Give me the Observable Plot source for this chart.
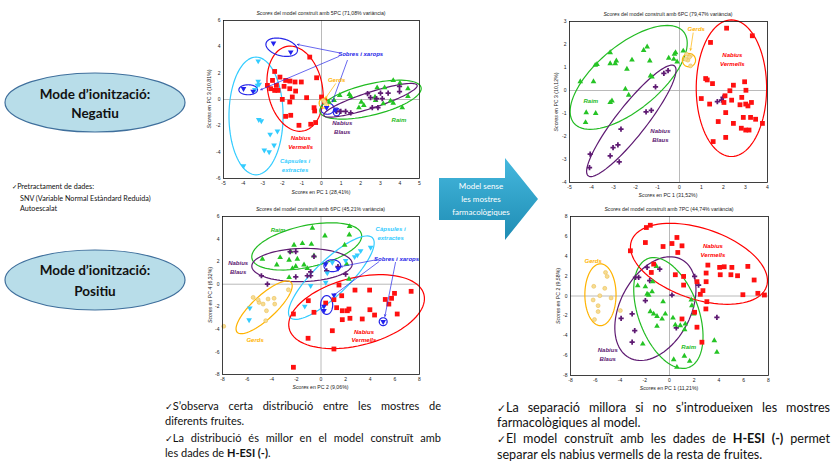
<!DOCTYPE html>
<html><head><meta charset="utf-8">
<script src="https://cdn.jsdelivr.net/npm/d3@7"></script>
<script src="https://cdn.jsdelivr.net/npm/@observablehq/plot@0.6"></script>
<style>
html,body{margin:0;padding:0;background:#fff;}
#page{position:relative;width:833px;height:462px;overflow:hidden;font-family:Lato,"Open Sans",sans-serif;color:#111;}
.chart{position:absolute;}
.small{position:absolute;font-family:"Liberation Sans",Arial,sans-serif;font-size:5.2px;color:#222;white-space:nowrap;transform:translate(-50%,-50%);}
.ylab{position:absolute;font-family:"Liberation Sans",Arial,sans-serif;font-size:5.2px;color:#222;white-space:nowrap;transform:translate(-50%,-50%) rotate(-90deg);}
.line{position:absolute;white-space:nowrap;}
.just{text-align:justify;text-align-last:justify;}
.ck{font-family:"DejaVu Sans",sans-serif;font-size:0.85em;}
.ib{display:inline-block;}
</style>
</head><body>
<div id="page">
<svg id="deco" width="833" height="462" style="position:absolute;left:0;top:0">
  <defs>
    <linearGradient id="ag" x1="0" y1="0" x2="0" y2="1">
      <stop offset="0" stop-color="#45b8de"/>
      <stop offset="1" stop-color="#1e8cb3"/>
    </linearGradient>
  </defs>
  <ellipse cx="95" cy="102.5" rx="90" ry="29.5" fill="#b8dde9" stroke="#3f6f9c" stroke-width="1.2"/>
  <text x="95" y="94" text-anchor="middle" dominant-baseline="central" font-size="13.5" font-weight="bold" font-family="Lato, 'Open Sans', sans-serif" fill="#111">Mode d’ionització:</text>
  <text x="95" y="113" text-anchor="middle" dominant-baseline="central" font-size="13.5" font-weight="bold" font-family="Lato, 'Open Sans', sans-serif" fill="#111">Negatiu</text>
  <ellipse cx="95" cy="280" rx="90" ry="30" fill="#b8dde9" stroke="#3f6f9c" stroke-width="1.2"/>
  <text x="95" y="270" text-anchor="middle" dominant-baseline="central" font-size="13.5" font-weight="bold" font-family="Lato, 'Open Sans', sans-serif" fill="#111">Mode d’ionització:</text>
  <text x="95" y="291" text-anchor="middle" dominant-baseline="central" font-size="13.5" font-weight="bold" font-family="Lato, 'Open Sans', sans-serif" fill="#111">Positiu</text>
  <polygon points="439,178 505,178 505,158 538,199 505,240 505,220 439,220" fill="url(#ag)"/>
  <text x="481" y="186" text-anchor="middle" dominant-baseline="central" font-size="8" font-family="Lato, 'Open Sans', sans-serif" fill="#fff">Model sense</text>
  <text x="481" y="199" text-anchor="middle" dominant-baseline="central" font-size="8" font-family="Lato, 'Open Sans', sans-serif" fill="#fff">les mostres</text>
  <text x="481" y="212" text-anchor="middle" dominant-baseline="central" font-size="8" font-family="Lato, 'Open Sans', sans-serif" fill="#fff">farmacològiques</text>
</svg>
<div class="line" style="left:12px;top:182px;font-size:7.2px;"><span class="ib"><span class="ck">✓</span>Pretractament</span> de dades:</div>
<div class="line" style="left:20px;top:193.5px;font-size:7.2px;">SNV (Variable Normal Estàndard Reduida)</div>
<div class="line" style="left:20px;top:204px;font-size:7.2px;">Autoescalat</div>

<div class="line just" style="left:165px;top:399px;width:276px;font-size:11px;"><span class="ib"><span class="ck">✓</span>S’observa</span> certa distribució entre les mostres de</div>
<div class="line" style="left:165px;top:414px;font-size:11px;">diferents fruites.</div>
<div class="line just" style="left:165px;top:431px;width:276px;font-size:11px;"><span class="ib"><span class="ck">✓</span>La</span> distribució és millor en el model construït amb</div>
<div class="line" style="left:165px;top:446px;font-size:11px;">les dades de <b>H-ESI (-)</b>.</div>

<div class="line just" style="left:497px;top:400px;width:333px;font-size:12.6px;"><span class="ib"><span class="ck">✓</span>La</span> separació millora si no s’introdueixen les mostres</div>
<div class="line" style="left:497px;top:415px;font-size:12.6px;">farmacològiques al model.</div>
<div class="line just" style="left:497px;top:431px;width:333px;font-size:12.6px;"><span class="ib"><span class="ck">✓</span>El</span> model construït amb les dades de <b>H-ESI (-)</b> permet</div>
<div class="line" style="left:497px;top:447px;font-size:12.6px;">separar els nabius vermells de la resta de fruites.</div>
</div>
<script>
// ---------- Chart 1: H-ESI(-), PC1 vs PC3 ----------
const C1_VERMELLS = [[-0.60,3.22],[-2.39,2.13],[-2.12,1.70],[-2.50,1.45],[-2.76,1.07],[-2.30,1.07],[-2.59,0.82],[-2.39,0.69],[-2.22,0.69],[-1.83,1.45],[-1.61,1.40],[-1.35,1.33],[-1.03,1.33],[-0.25,1.65],[-1.91,1.00],[-1.62,0.82],[-1.32,0.64],[-2.00,0.01],[-1.49,0.19],[-1.62,-0.19],[-0.76,0.14],[-0.38,-0.62],[-0.35,-0.87],[-1.83,-1.28],[-1.57,-1.20],[-1.15,-1.96],[-0.55,-1.88],[-0.30,-1.75],[0.16,-0.11],[0.0,0.19]];
const C1_CAPSULES = [[-3.23,2.92],[-3.23,1.38],[-3.27,1.07],[-3.40,0.74],[-3.18,1.15],[-3.20,-1.53],[-3.07,-1.63],[-2.62,-2.64],[-2.25,-2.41],[-2.92,-3.85],[-2.67,-3.98],[-2.42,-3.47],[-3.98,-5.04]];
const C1_SOBRES = [[-2.45,4.28],[-1.57,3.60],[-3.98,0.82],[-3.49,0.62],[0.26,-0.62],[0.72,-0.82]];
const C1_GERDS = [[0.09,-0.06],[0.21,-0.32],[0.15,-0.15]];
const C1_RAIM = [[3.66,1.45],[4.00,1.25],[4.41,0.82],[4.41,0.24],[4.12,-0.62],[2.84,0.90],[2.73,0.19],[2.76,-0.06],[2.03,-0.19],[1.91,-0.62],[1.49,0.24],[1.42,0.39],[0.93,0.32],[0.64,-0.06],[0.38,-0.19],[2.16,-0.44],[3.15,-0.32],[3.22,0.90],[3.52,-0.11],[3.66,-0.27]];
const C1_BLAUS = [[3.98,1.00],[3.40,0.49],[3.01,0.49],[2.50,0.14],[2.81,0.06],[3.10,0.06],[2.59,-0.62],[2.88,-0.62],[0.98,-0.90],[1.23,-0.90],[1.49,-1.02],[0.77,-0.90],[3.98,0.60],[2.35,0.45]];
const C1_ELLIPSES = [
  {group:"capsules", cx:-3.34, cy:-1.25, ux:0, uy:4.47, vx:1.38, vy:0},
  {group:"vermells", cx:-1.35, cy:0.82, ux:-0.42, uy:3.21, vx:1.37, vy:0.40},
  {group:"sobres", cx:-2.03, cy:3.97, ux:0.80, uy:-0.30, vx:-0.10, vy:-0.63},
  {group:"sobres", cx:-3.74, cy:0.74, ux:0.475, uy:0, vx:0, vy:0.38},
  {group:"sobres", cx:0.30, cy:-0.69, ux:0.34, uy:0, vx:0, vy:0.43},
  {group:"sobres", cx:0.77, cy:-0.95, ux:0.17, uy:0, vx:0, vy:0.30},
  {group:"gerds", cx:0.13, cy:-0.27, ux:0.25, uy:0, vx:0, vy:0.38},
  {group:"raim", cx:2.50, cy:-0.01, ux:2.58, uy:0.93, vx:0.19, vy:-1.15},
  {group:"blaus", cx:2.50, cy:-0.06, ux:2.38, uy:1.14, vx:0.12, vy:-0.58}
];
const C1_LABELS = [
  {group:"sobres", text:"Sobres i xarops", x:2.0, y:3.52},
  {group:"gerds", text:"Gerds", x:0.77, y:1.53},
  {group:"blaus", text:"Nabius\nBlaus", x:1.06, y:-2.05},
  {group:"raim", text:"Raim", x:3.95, y:-1.48},
  {group:"vermells", text:"Nabius\nVermells", x:-1.06, y:-3.2},
  {group:"capsules", text:"Càpsules i\nextractes", x:-1.35, y:-4.93}
];
const C1_ARROWS = [
  {group:"sobres", x1:0.89, y1:3.55, x2:-1.23, y2:4.18},
  {group:"sobres", x1:0.89, y1:3.27, x2:-3.10, y2:0.74},
  {group:"sobres", x1:1.32, y1:2.97, x2:0.55, y2:-0.19},
  {group:"gerds", x1:0.72, y1:1.20, x2:0.21, y2:0.11}
];

// ---------- Chart 2: H-ESI(-) without pharmacological samples ----------
const C2_RAIM = [[-4.51,0.39],[-3.91,0.39],[-4.24,-0.96],[-3.81,-0.99],[-4.27,-1.39],[-3.83,1.10],[-3.75,1.14],[-3.15,1.65],[-3.15,1.17],[-2.87,1.29],[-2.92,1.17],[-2.16,1.33],[-2.39,0.93],[-3.15,-0.52],[-3.07,-0.45],[-2.46,0.06],[-2.31,-0.20],[-1.63,1.75],[-1.47,1.90],[-1.35,1.29],[-1.32,0.64],[-1.25,0.59],[-0.49,1.41],[-0.23,1.58],[-0.18,1.65],[-0.11,1.25],[-0.26,1.36],[0.17,1.72]];
const C2_BLAUS = [[-4.09,-3.35],[-4.06,-2.77],[-3.15,-2.84],[-3.02,-2.48],[-2.80,-2.36],[-2.74,-3.10],[-2.66,-1.68],[-1.52,-0.93],[-1.28,-0.86],[-1.09,0.16],[-0.71,0.74],[-0.52,0.86],[1.72,-0.48],[1.91,-0.42],[1.98,-0.30]];
const C2_GERDS = [[0.32,1.58],[0.50,1.51],[0.38,1.32],[0.50,1.07],[0.27,1.36],[0.45,1.45]];
const C2_VERMELLS = [[2.14,2.71],[3.31,2.38],[1.41,2.09],[1.19,0.52],[1.26,0.46],[1.50,0.30],[2.45,0.23],[2.96,0.38],[2.29,-0.01],[0.99,-0.35],[1.37,-0.59],[2.07,-0.23],[2.02,-0.52],[2.37,-0.42],[2.83,-0.30],[3.02,0.01],[3.01,-0.59],[2.75,-0.62],[3.11,-0.67],[3.27,-0.52],[2.10,-0.96],[2.90,-1.17],[3.23,-1.17],[3.46,-1.25],[3.77,-1.43],[1.76,-1.35],[2.45,-1.43],[2.81,-1.64],[3.01,-1.72],[3.16,-1.72],[1.53,-2.22],[2.10,-2.04]];
const C2_ELLIPSES = [
  {group:"raim", cx:-2.31, cy:0.57, ux:2.49, uy:1.99, vx:0.94, vy:-1.07},
  {group:"blaus", cx:-2.19, cy:-1.32, ux:1.96, uy:2.39, vx:0.54, vy:-0.40},
  {group:"gerds", cx:0.43, cy:1.32, ux:0.30, uy:0, vx:0, vy:0.29},
  {group:"vermells", cx:2.36, cy:0.10, ux:0, uy:2.97, vx:1.60, vy:0}
];
const C2_LABELS = [
  {group:"gerds", text:"Gerds", x:0.76, y:2.70},
  {group:"vermells", text:"Nabius\nVermells", x:2.40, y:1.38},
  {group:"raim", text:"Raim", x:-4.03, y:-0.41},
  {group:"blaus", text:"Nabius\nBlaus", x:-0.87, y:-1.92}
];
const C2_ARROWS = [{group:"gerds", x1:0.62, y1:2.50, x2:0.50, y2:1.75}];

// ---------- Chart 3: H-ESI(+), PC2 vs PC4 ----------
const C3_RAIM = [[-0.70,4.97],[2.32,5.12],[0.32,4.29],[2.30,4.38],[-1.51,3.61],[-0.78,3.55],[-2.19,3.47],[-2.46,2.88],[-3.32,2.37],[-4.76,2.23],[-3.59,1.72],[-2.59,2.14],[-1.92,2.23],[-1.38,1.72],[-1.11,1.40],[-0.57,2.52],[-2.05,1.58],[-2.32,1.40],[-2.59,0.60],[1.92,3.47],[2.08,1.78],[2.27,0.46]];
const C3_BLAUS = [[-4.84,0.75],[-4.35,0.01],[-2.51,2.88],[-2.05,2.88],[-2.05,0.66],[-1.11,0.75],[-0.84,0.75],[-0.84,1.10],[-0.57,2.46],[1.38,1.55],[2.00,0.90],[0.46,1.19]];
const C3_CAPSULES = [[4.03,3.26],[3.22,2.96],[2.95,2.58],[2.73,2.43],[2.00,2.08],[0.92,1.93],[0.51,0.99],[0.38,0.16],[-0.84,-0.13],[-1.32,-1.96],[-5.78,-2.11],[-5.84,-3.17]];
const C3_SOBRES = [[0.38,1.78],[1.38,1.40],[0.24,-1.96],[0.24,-2.35],[1.05,-0.96],[5.05,-3.32]];
const C3_GERDS = [[-7.9,-3.73],[-5.51,-1.17],[-5.03,-1.61],[-4.70,-1.76],[-4.30,-1.31],[-3.81,-1.25],[-3.76,-1.76],[-4.43,-2.35],[-4.49,-3.23],[-2.65,-0.49],[-5.11,-1.37]];
const C3_VERMELLS = [[-2.24,-2.64],[-1.03,-1.46],[-0.57,-2.49],[-1.05,-4.79],[-2.24,-7.36],[1.46,-0.07],[0.38,-1.67],[1.05,-1.37],[1.27,-2.08],[1.68,-1.02],[1.73,-2.35],[2.14,-2.35],[2.27,-2.20],[1.73,-3.14],[2.35,-3.02],[2.76,-0.52],[3.35,-3.08],[3.95,-0.52],[3.97,-2.26],[4.35,-2.73],[5.22,-1.35],[5.51,-1.76],[5.73,-1.25],[5.97,-0.81],[6.19,-2.64],[7.32,-0.63],[0.92,-4.12],[1.05,-5.74]];
const C3_ELLIPSES = [
  {group:"raim", cx:-1.16, cy:3.35, ux:4.45, uy:1.07, vx:0.36, vy:-1.80},
  {group:"blaus", cx:-1.54, cy:1.70, ux:4.08, uy:0.1, vx:0, vy:1.47},
  {group:"capsules", cx:0.84, cy:0.58, ux:3.34, uy:3.53, vx:0.98, vy:-1.10},
  {group:"gerds", cx:-4.62, cy:-2.05, ux:2.19, uy:2.21, vx:0.64, vy:-0.76},
  {group:"vermells", cx:2.89, cy:-2.43, ux:5.47, uy:1.52, vx:0.68, vy:-2.90},
  {group:"sobres", cx:0.92, cy:1.64, ux:0.68, uy:0, vx:0, vy:0.53},
  {group:"sobres", cx:0.46, cy:-1.84, ux:0.49, uy:0, vx:0, vy:0.83},
  {group:"sobres", cx:5.05, cy:-3.32, ux:0.32, uy:0, vx:0, vy:0.35}
];
const C3_LABELS = [
  {group:"raim", text:"Raim", x:-3.49, y:4.88},
  {group:"blaus", text:"Nabius\nBlaus", x:-6.73, y:1.52},
  {group:"capsules", text:"Càpsules i\nextractes", x:5.65, y:4.54},
  {group:"sobres", text:"Sobres i xarops", x:6.14, y:2.29},
  {group:"gerds", text:"Gerds", x:-5.35, y:-4.85},
  {group:"vermells", text:"Nabius\nVermells", x:3.49, y:-4.51}
];
const C3_ARROWS = [
  {group:"sobres", x1:4.5, y1:2.17, x2:1.59, y2:1.55},
  {group:"sobres", x1:4.7, y1:1.99, x2:1.05, y2:-0.96},
  {group:"sobres", x1:6.05, y1:1.93, x2:5.19, y2:-2.85}
];

// ---------- Chart 4: H-ESI(+) without pharmacological samples ----------
const C4_GERDS = [[-5.17,2.37],[-5.04,1.97],[-6.12,0.97],[-5.23,0.77],[-5.63,0.03],[-6.17,-0.40],[-4.72,-0.20],[-5.77,-0.97],[-5.77,-1.57],[-6.06,-2.37],[-3.97,-1.47]];
const C4_BLAUS = [[-3.91,-2.24],[-3.02,-1.81],[-2.81,-3.48],[-3.02,-4.65],[-2.49,1.87],[-2.75,1.87],[-1.81,2.88],[-1.60,1.54],[-0.79,2.71],[-1.95,-0.47],[0.20,0.10],[0.55,-3.21],[2.03,1.97],[2.35,1.10],[3.83,-2.14]];
const C4_RAIM = [[-2.57,1.04],[-1.95,0.94],[-1.36,1.44],[-1.06,2.98],[-1.81,0.20],[-1.68,0.10],[-1.41,0.43],[-1.55,-1.57],[-1.28,-1.81],[-1.01,-2.04],[-1.01,-3.04],[-0.60,-2.31],[-0.52,-0.57],[-0.34,-1.81],[0.28,-2.21],[-2.16,-4.82],[0.34,-6.39],[1.20,-6.05],[1.63,-6.56],[0.60,-7.16],[0.47,-2.91],[0.87,-2.98],[1.28,-2.81],[1.22,-3.38],[1.76,-0.40],[1.81,-0.97],[1.95,-1.81],[3.62,-4.48],[3.83,-5.65]];
const C4_VERMELLS = [[-3.16,4.55],[-1.87,6.89],[-1.55,7.12],[-1.95,5.38],[-0.52,4.98],[0.60,5.89],[0.20,5.28],[1.01,5.05],[0.67,4.38],[-1.28,3.21],[-1.47,2.37],[0.47,2.14],[1.14,1.97],[1.14,1.10],[3.10,3.11],[2.96,2.31],[2.22,1.44],[2.70,0.54],[2.49,0.17],[2.96,1.44],[3.02,-0.57],[2.94,-1.30],[4.05,2.88],[4.42,2.94],[4.10,2.14],[5.04,2.88],[4.96,2.14],[5.50,2.04],[6.33,2.98],[6.84,1.61],[5.93,0.13],[7.14,0.27],[7.67,0.10],[1.01,-2.31],[2.03,-1.64],[2.22,-3.14],[2.62,-4.65]];
const C4_ELLIPSES = [
  {group:"gerds", cx:-5.58, cy:0.13, ux:0, uy:3.11, vx:1.26, vy:0},
  {group:"blaus", cx:-1.14, cy:-1.27, ux:2.11, uy:4.95, vx:2.51, vy:-1.66},
  {group:"raim", cx:-0.09, cy:-1.71, ux:1.64, uy:-5.48, vx:-2.27, vy:-1.05},
  {group:"vermells", cx:2.38, cy:3.24, ux:5.46, uy:-2.29, vx:-0.92, vy:-3.37}
];
const C4_LABELS = [
  {group:"gerds", text:"Gerds", x:-6.17, y:3.61},
  {group:"vermells", text:"Nabius\nVermells", x:3.51, y:4.66},
  {group:"blaus", text:"Nabius\nBlaus", x:-4.99, y:-5.81},
  {group:"raim", text:"Raim", x:1.55, y:-5.05}
];

// ---------- Axes ----------
const TICKS_5 = [-5,-4,-3,-2,-1,0,1,2,3,4,5];
const TICKS_6 = [-6,-4,-2,0,2,4,6];
const TICKS_C2X = [-5,-4,-3,-2,-1,0,1,2,3,4];
const TICKS_C2Y = [-4,-3,-2,-1,0,1,2,3];
const TICKS_8 = [-8,-6,-4,-2,0,2,4,6,8];
const TICKS_C3Y = [-8,-6,-4,-2,0,2,4,6];

// ---------- Styles ----------
const COLOR = {vermells:"#ff0000", raim:"#22bb22", blaus:"#5e1a72", gerds:"#ffb300", capsules:"#33ccff", sobres:"#2626e8"};
const MARK = {
  vermells:{symbol:"square", fill:"#ff1010", r:2.7},
  raim:{symbol:"triangle", fill:"#25c425", r:2.1},
  blaus:{symbol:"cross", fill:"#5e1a72", r:2.2},
  gerds:{symbol:"circle", fill:"#f6dc92", stroke:"#e8b848", strokeWidth:0.5, r:2.0},
  capsules:{symbol:"triangle", fill:"#33ccff", rotate:180, r:2.1},
  sobres:{symbol:"triangle", fill:"#2222ee", rotate:180, r:2.1}
};

function rows(arr){ return arr.map(([x,y]) => ({x,y})); }
function ellipsePoints(e, i){
  const n = 90, out = [];
  for (let k=0;k<n;k++){ const t = 2*Math.PI*k/n;
    out.push({id:i, x:e.cx + e.ux*Math.cos(t) + e.vx*Math.sin(t), y:e.cy + e.uy*Math.cos(t) + e.vy*Math.sin(t)}); }
  return out;
}

const CHARTS = [
  {frame:[223,20,419,178], x:[-5,5], y:[-6,6], xt:TICKS_5, yt:TICKS_6,
   series:{capsules:C1_CAPSULES, vermells:C1_VERMELLS, raim:C1_RAIM, blaus:C1_BLAUS, gerds:C1_GERDS, sobres:C1_SOBRES},
   ellipses:C1_ELLIPSES, labels:C1_LABELS, arrows:C1_ARROWS,
   title:"del model construït amb 5PC (71,08% variància)", ty:13, xl:"en PC 1 (28,41%)", xly:192, yl:"en PC 3 (10,81%)", ylx:209},
  {frame:[569,21,767,182], x:[-5,4], y:[-4,3], xt:TICKS_C2X, yt:TICKS_C2Y,
   series:{raim:C2_RAIM, blaus:C2_BLAUS, gerds:C2_GERDS, vermells:C2_VERMELLS},
   ellipses:C2_ELLIPSES, labels:C2_LABELS, arrows:C2_ARROWS,
   title:"del model construït amb 6PC (79,47% variància)", ty:14, xl:"en PC 1 (31,52%)", xly:195, yl:"en PC 3 (10,12%)", ylx:556},
  {frame:[222,216,419,374], x:[-8,8], y:[-8,6], xt:TICKS_8, yt:TICKS_C3Y,
   series:{raim:C3_RAIM, blaus:C3_BLAUS, capsules:C3_CAPSULES, gerds:C3_GERDS, vermells:C3_VERMELLS, sobres:C3_SOBRES},
   ellipses:C3_ELLIPSES, labels:C3_LABELS, arrows:C3_ARROWS,
   title:"del model construït amb 6PC (45,21% variància)", ty:209, xl:"en PC 2 (9,06%)", xly:387, yl:"en PC 4 (6,32%)", ylx:210},
  {frame:[570,216,768,375], x:[-8,8], y:[-8,8], xt:TICKS_8, yt:TICKS_8,
   series:{gerds:C4_GERDS, blaus:C4_BLAUS, raim:C4_RAIM, vermells:C4_VERMELLS},
   ellipses:C4_ELLIPSES, labels:C4_LABELS, arrows:[],
   title:"del model construït amb 7PC (44,74% variància)", ty:209, xl:"en PC 1 (11,21%)", xly:388, yl:"en PC 2 (9,58%)", ylx:558}
];

const page = document.getElementById("page");
const ML = 30, MR = 8, MT = 8, MB = 12;
const fmt = d => String(d);

for (const c of CHARTS){
  const [l,t,r,b] = c.frame;
  const W = r - l, H = b - t;
  const marks = [
    Plot.ruleX([0], {stroke:"#a8a8a8", strokeWidth:0.8}),
    Plot.ruleY([0], {stroke:"#a8a8a8", strokeWidth:0.8})
  ];
  c.ellipses.forEach((e,i) => {
    marks.push(Plot.line(ellipsePoints(e,i), {x:"x", y:"y", stroke:COLOR[e.group], strokeWidth:1.2, curve:"linear-closed"}));
  });
  for (const [g, arr] of Object.entries(c.series)){
    const m = MARK[g];
    marks.push(Plot.dot(rows(arr), {x:"x", y:"y", symbol:m.symbol, fill:m.fill, stroke:m.stroke || "none",
      strokeWidth:m.strokeWidth || 0, r:m.r, rotate:m.rotate || 0}));
  }
  for (const a of c.arrows){
    marks.push(Plot.arrow([a], {x1:"x1", y1:"y1", x2:"x2", y2:"y2", stroke:COLOR[a.group], strokeWidth:0.7, headLength:4, headAngle:50}));
  }
  for (const lb of c.labels){
    marks.push(Plot.text([lb], {x:"x", y:"y", text:"text", fill:COLOR[lb.group], fontSize:6, fontWeight:"bold",
      fontStyle:"italic", lineHeight:1.45, fontFamily:"'Liberation Sans', Arial, sans-serif"}));
  }
  marks.push(Plot.frame({stroke:"#111", strokeWidth:0.8}));
  const svg = Plot.plot({
    width: W + ML + MR, height: H + MT + MB,
    marginLeft: ML, marginRight: MR, marginTop: MT, marginBottom: MB,
    x:{domain:c.x, ticks:c.xt, tickFormat:fmt, tickSize:0, tickPadding:3, label:null},
    y:{domain:c.y, ticks:c.yt, tickFormat:fmt, tickSize:0, tickPadding:3, label:null},
    style:{fontSize:"5px", fontFamily:"'Liberation Sans', Arial, sans-serif", color:"#222", background:"transparent", overflow:"visible"},
    marks
  });
  svg.classList.add("chart");
  svg.style.left = (l - ML) + "px";
  svg.style.top = (t - MT) + "px";
  page.appendChild(svg);

  const cx = (l + r)/2, cy = (t + b)/2;
  const tdiv = document.createElement("div");
  tdiv.className = "small"; tdiv.style.left = cx + "px"; tdiv.style.top = c.ty + "px";
  tdiv.innerHTML = "<i>Scores</i> " + c.title;
  page.appendChild(tdiv);
  const xdiv = document.createElement("div");
  xdiv.className = "small"; xdiv.style.left = cx + "px"; xdiv.style.top = c.xly + "px";
  xdiv.innerHTML = "<i>Scores</i> " + c.xl;
  page.appendChild(xdiv);
  const ydiv = document.createElement("div");
  ydiv.className = "ylab"; ydiv.style.left = c.ylx + "px"; ydiv.style.top = cy + "px";
  ydiv.innerHTML = "<i>Scores</i> " + c.yl;
  page.appendChild(ydiv);
}
</script>
</body></html>
